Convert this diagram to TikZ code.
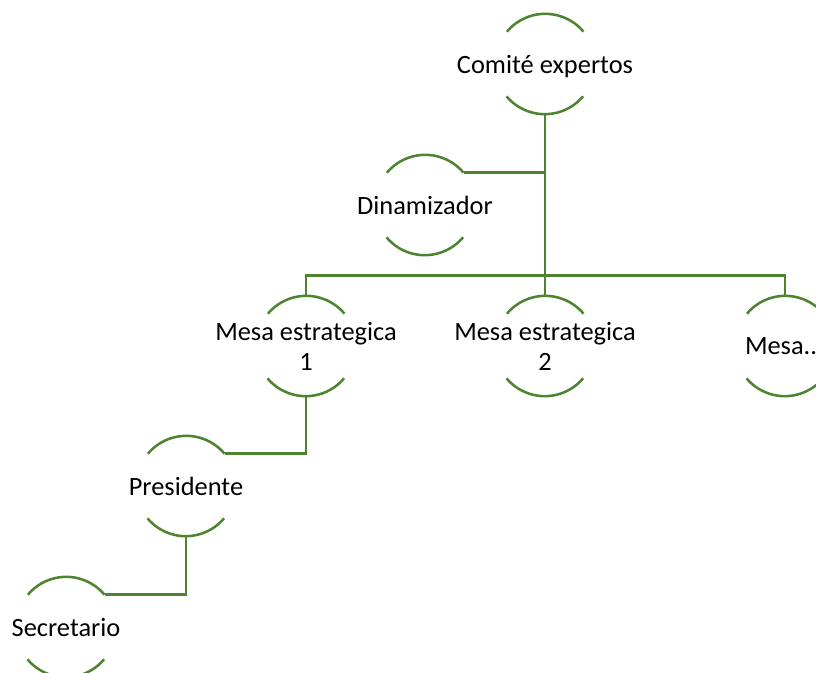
\documentclass[tikz,border=0pt]{standalone}
\usepackage{fontspec}
\setmainfont{Carlito}
\usepackage{tikz}
\definecolor{orggreen}{RGB}{78,132,48}

\begin{document}
\begin{tikzpicture}[x=0.75pt, y=0.75pt,
        font = \fontsize{19.8}{22.5}\selectfont,
        orgnode/.style = {circle, minimum size=75pt, inner sep=0pt},
        link/.style = {orggreen, line width=1.9pt}]
        \useasboundingbox (0,0) rectangle (816,-672);

        \node[orgnode, label={[align=center, yshift=-2pt]center:Comité expertos}] (comite) at (545,-64) {};
        \node[orgnode, label={[align=center]center:Dinamizador}] (dinam) at (425,-205) {};
        \node[orgnode, label={[align=center]center:Mesa estrategica\\1}] (mesaA) at (306,-346) {};
        \node[orgnode, label={[align=center]center:Mesa estrategica\\2}] (mesaB) at (545,-346) {};
        \node[orgnode, label={[align=center, xshift=-3pt]center:Mesa..}] (mesaC) at (785,-346) {};
        \node[orgnode, label={[align=center]center:Presidente}] (pres) at (186,-486) {};
        \node[orgnode, label={[align=center]center:Secretario}] (secr) at (66,-627) {};

        % top and bottom arcs of every circle
        \foreach \n in {comite, dinam, mesaA, mesaB, mesaC, pres, secr} {
            \draw[link] (\n.40) arc[start angle=40, end angle=140, radius=37.5pt];
            \draw[link] (\n.220) arc[start angle=220, end angle=320, radius=37.5pt];
        }

        \draw[link] (comite.south) -- (mesaB.north);
        \draw[link] (dinam.40) -- (dinam.40 -| comite.south);
        \draw[link] (mesaA.north) -- ++(0,20) -| (mesaC.north);
        \draw[link] (pres.40) -| (mesaA.south);
        \draw[link] (secr.40) -| (pres.south);
    \end{tikzpicture}
\end{document}
